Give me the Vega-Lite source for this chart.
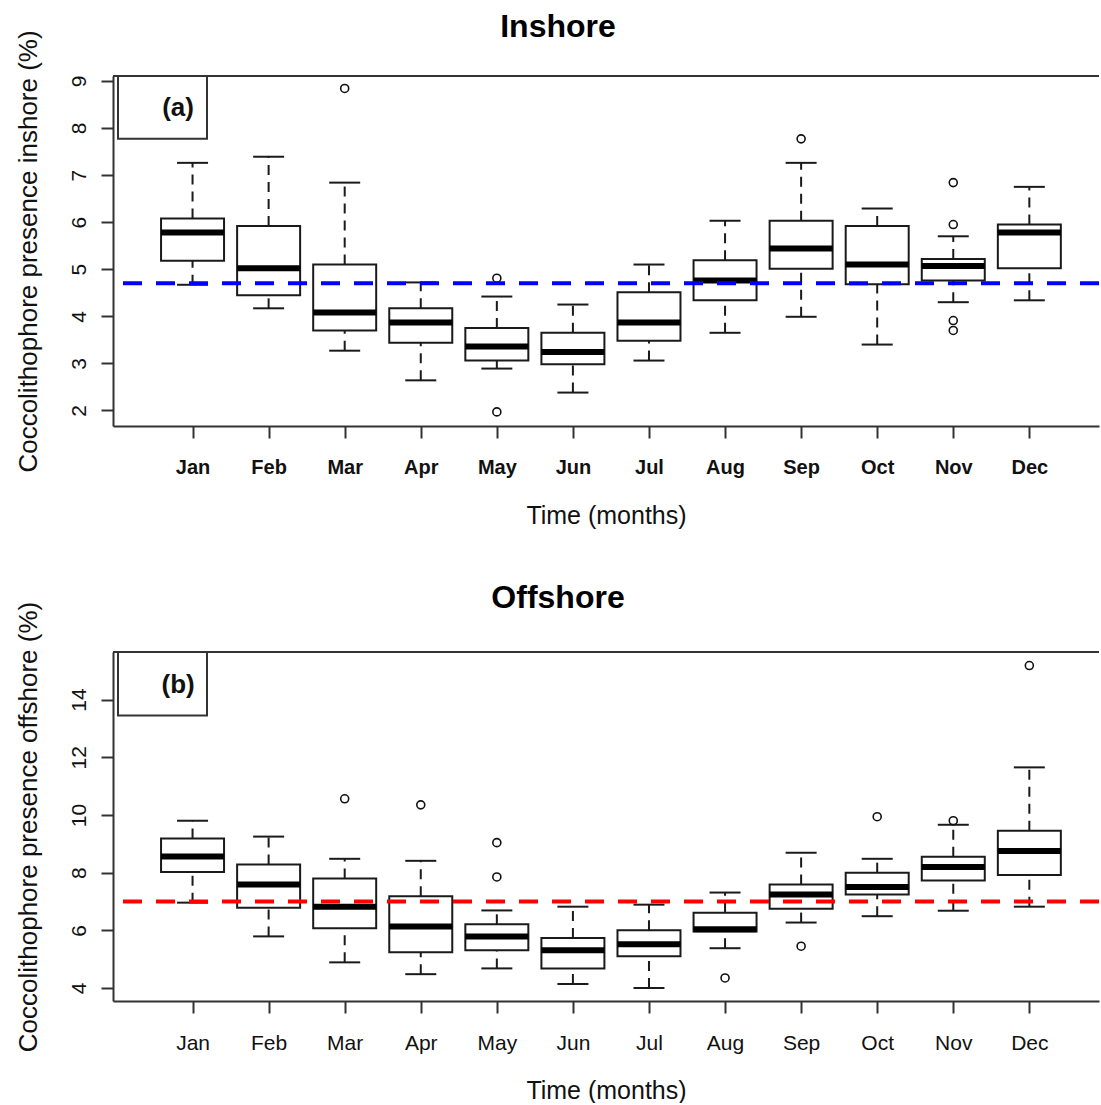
{
  "$schema": "https://vega.github.io/schema/vega-lite/v6.json",
  "padding": {"left": 15, "top": 10, "right": 0, "bottom": 0},
  "spacing": 226,
  "bounds": "flush",
  "datasets": {
    "inshore": [
      {"month": "Jan", "m": 1, "lower": 4.67, "q1": 5.18, "median": 5.78, "q3": 6.08, "upper": 7.26},
      {"month": "Feb", "m": 2, "lower": 4.17, "q1": 4.45, "median": 5.02, "q3": 5.92, "upper": 7.39},
      {"month": "Mar", "m": 3, "lower": 3.27, "q1": 3.70, "median": 4.08, "q3": 5.10, "upper": 6.84},
      {"month": "Apr", "m": 4, "lower": 2.64, "q1": 3.44, "median": 3.87, "q3": 4.17, "upper": 4.72},
      {"month": "May", "m": 5, "lower": 2.89, "q1": 3.06, "median": 3.36, "q3": 3.75, "upper": 4.42},
      {"month": "Jun", "m": 6, "lower": 2.38, "q1": 2.98, "median": 3.24, "q3": 3.65, "upper": 4.25},
      {"month": "Jul", "m": 7, "lower": 3.06, "q1": 3.48, "median": 3.87, "q3": 4.51, "upper": 5.10},
      {"month": "Aug", "m": 8, "lower": 3.65, "q1": 4.34, "median": 4.76, "q3": 5.19, "upper": 6.03},
      {"month": "Sep", "m": 9, "lower": 3.99, "q1": 5.01, "median": 5.44, "q3": 6.03, "upper": 7.26},
      {"month": "Oct", "m": 10, "lower": 3.40, "q1": 4.68, "median": 5.10, "q3": 5.92, "upper": 6.29},
      {"month": "Nov", "m": 11, "lower": 4.30, "q1": 4.76, "median": 5.07, "q3": 5.22, "upper": 5.70},
      {"month": "Dec", "m": 12, "lower": 4.34, "q1": 5.02, "median": 5.78, "q3": 5.95, "upper": 6.75}
    ],
    "inshore_out": [
      {"month": "Mar", "m": 3, "value": 8.84},
      {"month": "May", "m": 5, "value": 4.81},
      {"month": "May", "m": 5, "value": 1.97},
      {"month": "Sep", "m": 9, "value": 7.77},
      {"month": "Nov", "m": 11, "value": 6.84},
      {"month": "Nov", "m": 11, "value": 5.95},
      {"month": "Nov", "m": 11, "value": 3.91},
      {"month": "Nov", "m": 11, "value": 3.70}
    ],
    "offshore": [
      {"month": "Jan", "m": 1, "lower": 6.96, "q1": 8.02, "median": 8.56, "q3": 9.18, "upper": 9.80},
      {"month": "Feb", "m": 2, "lower": 5.79, "q1": 6.78, "median": 7.59, "q3": 8.28, "upper": 9.25},
      {"month": "Mar", "m": 3, "lower": 4.89, "q1": 6.07, "median": 6.82, "q3": 7.80, "upper": 8.48},
      {"month": "Apr", "m": 4, "lower": 4.48, "q1": 5.24, "median": 6.13, "q3": 7.18, "upper": 8.41},
      {"month": "May", "m": 5, "lower": 4.68, "q1": 5.31, "median": 5.79, "q3": 6.21, "upper": 6.69},
      {"month": "Jun", "m": 6, "lower": 4.14, "q1": 4.68, "median": 5.31, "q3": 5.73, "upper": 6.82},
      {"month": "Jul", "m": 7, "lower": 4.00, "q1": 5.10, "median": 5.52, "q3": 6.00, "upper": 6.89},
      {"month": "Aug", "m": 8, "lower": 5.38, "q1": 5.96, "median": 6.04, "q3": 6.61, "upper": 7.31},
      {"month": "Sep", "m": 9, "lower": 6.27, "q1": 6.75, "median": 7.24, "q3": 7.59, "upper": 8.69},
      {"month": "Oct", "m": 10, "lower": 6.49, "q1": 7.24, "median": 7.50, "q3": 8.00, "upper": 8.48},
      {"month": "Nov", "m": 11, "lower": 6.68, "q1": 7.73, "median": 8.20, "q3": 8.55, "upper": 9.66},
      {"month": "Dec", "m": 12, "lower": 6.82, "q1": 7.92, "median": 8.75, "q3": 9.45, "upper": 11.65}
    ],
    "offshore_out": [
      {"month": "Mar", "m": 3, "value": 10.56},
      {"month": "Apr", "m": 4, "value": 10.35},
      {"month": "May", "m": 5, "value": 9.04},
      {"month": "May", "m": 5, "value": 7.85},
      {"month": "Aug", "m": 8, "value": 4.35},
      {"month": "Sep", "m": 9, "value": 5.45},
      {"month": "Oct", "m": 10, "value": 9.94},
      {"month": "Nov", "m": 11, "value": 9.80},
      {"month": "Dec", "m": 12, "value": 15.18}
    ]
  },
  "vconcat": [
    {
      "title": {"text": "Inshore"},
      "width": 986,
      "height": 350,
      "layer": [
        {
          "data": {"name": "inshore"},
          "mark": {"type": "rule", "strokeDash": [10, 7], "strokeWidth": 2, "color": "#1a1a1a"},
          "encoding": {
            "x": {"field": "m", "type": "quantitative", "scale": {"domain": [0.02, 12.85], "nice": false, "zero": false}, "title": "Time (months)",
              "axis": {"values": [1,2,3,4,5,6,7,8,9,10,11,12], "labelExpr": "['Jan','Feb','Mar','Apr','May','Jun','Jul','Aug','Sep','Oct','Nov','Dec'][datum.value - 1]", "tickSize": 12, "labelPadding": 19, "labelFontSize": 20, "labelFontWeight": "bold", "labelFlush": false, "labelOverlap": false, "minExtent": 50, "maxExtent": 50, "titlePadding": 27, "titleFontSize": 25}},
            "y": {"field": "q3", "type": "quantitative", "scale": {"domain": [1.67, 9.105], "nice": false, "zero": false}, "title": "Coccolithophore presence inshore (%)",
              "axis": {"values": [2,3,4,5,6,7,8,9], "tickSize": 12, "labelPadding": 12, "labelAngle": 270, "labelAlign": "center", "labelBaseline": "bottom", "labelFontSize": 21, "minExtent": 40, "maxExtent": 40, "titlePadding": 32, "titleFontSize": 26}},
            "y2": {"field": "upper"}
          }
        },
        {
          "data": {"name": "inshore"},
          "mark": {"type": "rule", "strokeDash": [10, 7], "strokeWidth": 2, "color": "#1a1a1a"},
          "encoding": {
            "x": {"field": "m", "type": "quantitative", "scale": {"domain": [0.02, 12.85], "nice": false, "zero": false}, "title": "Time (months)"},
            "y": {"field": "lower", "type": "quantitative", "scale": {"domain": [1.67, 9.105], "nice": false, "zero": false}, "title": "Coccolithophore presence inshore (%)"},
            "y2": {"field": "q1"}
          }
        },
        {
          "data": {"name": "inshore"},
          "mark": {"type": "tick", "orient": "horizontal", "size": 31, "thickness": 2, "color": "#1a1a1a", "opacity": 1},
          "encoding": {
            "x": {"field": "m", "type": "quantitative", "scale": {"domain": [0.02, 12.85], "nice": false, "zero": false}, "title": "Time (months)"},
            "y": {"field": "upper", "type": "quantitative", "scale": {"domain": [1.67, 9.105], "nice": false, "zero": false}, "title": "Coccolithophore presence inshore (%)"}
          }
        },
        {
          "data": {"name": "inshore"},
          "mark": {"type": "tick", "orient": "horizontal", "size": 31, "thickness": 2, "color": "#1a1a1a", "opacity": 1},
          "encoding": {
            "x": {"field": "m", "type": "quantitative", "scale": {"domain": [0.02, 12.85], "nice": false, "zero": false}, "title": "Time (months)"},
            "y": {"field": "lower", "type": "quantitative", "scale": {"domain": [1.67, 9.105], "nice": false, "zero": false}, "title": "Coccolithophore presence inshore (%)"}
          }
        },
        {
          "data": {"name": "inshore"},
          "mark": {"type": "bar", "width": 63, "fill": "white", "stroke": "#1a1a1a", "strokeWidth": 2, "opacity": 1},
          "encoding": {
            "x": {"field": "m", "type": "quantitative", "scale": {"domain": [0.02, 12.85], "nice": false, "zero": false}, "title": "Time (months)"},
            "y": {"field": "q1", "type": "quantitative", "scale": {"domain": [1.67, 9.105], "nice": false, "zero": false}, "title": "Coccolithophore presence inshore (%)"},
            "y2": {"field": "q3"}
          }
        },
        {
          "data": {"name": "inshore"},
          "mark": {"type": "tick", "orient": "horizontal", "size": 63, "thickness": 6, "color": "#000000", "opacity": 1},
          "encoding": {
            "x": {"field": "m", "type": "quantitative", "scale": {"domain": [0.02, 12.85], "nice": false, "zero": false}, "title": "Time (months)"},
            "y": {"field": "median", "type": "quantitative", "scale": {"domain": [1.67, 9.105], "nice": false, "zero": false}, "title": "Coccolithophore presence inshore (%)"}
          }
        },
        {
          "data": {"name": "inshore_out"},
          "mark": {"type": "point", "shape": "circle", "filled": false, "size": 64, "strokeWidth": 1.6, "color": "#111111", "opacity": 1},
          "encoding": {
            "x": {"field": "m", "type": "quantitative", "scale": {"domain": [0.02, 12.85], "nice": false, "zero": false}, "title": "Time (months)"},
            "y": {"field": "value", "type": "quantitative", "scale": {"domain": [1.67, 9.105], "nice": false, "zero": false}, "title": "Coccolithophore presence inshore (%)"}
          }
        },
        {
          "data": {"values": [{"mean": 4.70}]},
          "mark": {"type": "rule", "color": "#0000ff", "strokeWidth": 4, "strokeDash": [19, 14]},
          "encoding": {
            "y": {"field": "mean", "type": "quantitative", "scale": {"domain": [1.67, 9.105], "nice": false, "zero": false}, "title": "Coccolithophore presence inshore (%)"}
          }
        },
        {
          "data": {"values": [{"label": "(a)"}]},
          "mark": {"type": "rule", "color": "#333333", "strokeWidth": 2},
          "encoding": {
            "y": {"datum": 9.105, "type": "quantitative", "scale": {"domain": [1.67, 9.105], "nice": false, "zero": false}, "title": "Coccolithophore presence inshore (%)"}
          }
        },
        {
          "data": {"values": [{"label": "(a)"}]},
          "mark": {"type": "rect", "fill": "white", "stroke": "#333333", "strokeWidth": 2},
          "encoding": {
            "x": {"datum": 0.02, "type": "quantitative", "scale": {"domain": [0.02, 12.85], "nice": false, "zero": false}, "title": "Time (months)"},
            "x2": {"datum": 1.19},
            "y": {"datum": 9.105, "type": "quantitative", "scale": {"domain": [1.67, 9.105], "nice": false, "zero": false}, "title": "Coccolithophore presence inshore (%)"},
            "y2": {"datum": 7.77}
          }
        },
        {
          "data": {"values": [{"label": "(a)"}]},
          "mark": {"type": "text", "fontSize": 26, "fontWeight": "bold", "align": "center", "baseline": "middle", "color": "#111111"},
          "encoding": {
            "x": {"datum": 0.81, "type": "quantitative", "scale": {"domain": [0.02, 12.85], "nice": false, "zero": false}, "title": "Time (months)"},
            "y": {"datum": 8.42, "type": "quantitative", "scale": {"domain": [1.67, 9.105], "nice": false, "zero": false}, "title": "Coccolithophore presence inshore (%)"},
            "text": {"field": "label"}
          }
        }
      ]
    },
    {
      "title": {"text": "Offshore"},
      "width": 986,
      "height": 349,
      "layer": [
        {
          "data": {"name": "offshore"},
          "mark": {"type": "rule", "strokeDash": [10, 7], "strokeWidth": 2, "color": "#1a1a1a"},
          "encoding": {
            "x": {"field": "m", "type": "quantitative", "scale": {"domain": [0.02, 12.85], "nice": false, "zero": false}, "title": "Time (months)",
              "axis": {"values": [1,2,3,4,5,6,7,8,9,10,11,12], "labelExpr": "['Jan','Feb','Mar','Apr','May','Jun','Jul','Aug','Sep','Oct','Nov','Dec'][datum.value - 1]", "tickSize": 12, "labelPadding": 19, "labelFontSize": 21, "labelFlush": false, "labelOverlap": false, "minExtent": 50, "maxExtent": 50, "titlePadding": 27, "titleFontSize": 25}},
            "y": {"field": "q3", "type": "quantitative", "scale": {"domain": [3.55, 15.65], "nice": false, "zero": false}, "title": "Coccolithophore presence offshore (%)",
              "axis": {"values": [4,6,8,10,12,14], "tickSize": 12, "labelPadding": 12, "labelAngle": 270, "labelAlign": "center", "labelBaseline": "bottom", "labelFontSize": 21, "minExtent": 40, "maxExtent": 40, "titlePadding": 32, "titleFontSize": 26}},
            "y2": {"field": "upper"}
          }
        },
        {
          "data": {"name": "offshore"},
          "mark": {"type": "rule", "strokeDash": [10, 7], "strokeWidth": 2, "color": "#1a1a1a"},
          "encoding": {
            "x": {"field": "m", "type": "quantitative", "scale": {"domain": [0.02, 12.85], "nice": false, "zero": false}, "title": "Time (months)"},
            "y": {"field": "lower", "type": "quantitative", "scale": {"domain": [3.55, 15.65], "nice": false, "zero": false}, "title": "Coccolithophore presence offshore (%)"},
            "y2": {"field": "q1"}
          }
        },
        {
          "data": {"name": "offshore"},
          "mark": {"type": "tick", "orient": "horizontal", "size": 31, "thickness": 2, "color": "#1a1a1a", "opacity": 1},
          "encoding": {
            "x": {"field": "m", "type": "quantitative", "scale": {"domain": [0.02, 12.85], "nice": false, "zero": false}, "title": "Time (months)"},
            "y": {"field": "upper", "type": "quantitative", "scale": {"domain": [3.55, 15.65], "nice": false, "zero": false}, "title": "Coccolithophore presence offshore (%)"}
          }
        },
        {
          "data": {"name": "offshore"},
          "mark": {"type": "tick", "orient": "horizontal", "size": 31, "thickness": 2, "color": "#1a1a1a", "opacity": 1},
          "encoding": {
            "x": {"field": "m", "type": "quantitative", "scale": {"domain": [0.02, 12.85], "nice": false, "zero": false}, "title": "Time (months)"},
            "y": {"field": "lower", "type": "quantitative", "scale": {"domain": [3.55, 15.65], "nice": false, "zero": false}, "title": "Coccolithophore presence offshore (%)"}
          }
        },
        {
          "data": {"name": "offshore"},
          "mark": {"type": "bar", "width": 63, "fill": "white", "stroke": "#1a1a1a", "strokeWidth": 2, "opacity": 1},
          "encoding": {
            "x": {"field": "m", "type": "quantitative", "scale": {"domain": [0.02, 12.85], "nice": false, "zero": false}, "title": "Time (months)"},
            "y": {"field": "q1", "type": "quantitative", "scale": {"domain": [3.55, 15.65], "nice": false, "zero": false}, "title": "Coccolithophore presence offshore (%)"},
            "y2": {"field": "q3"}
          }
        },
        {
          "data": {"name": "offshore"},
          "mark": {"type": "tick", "orient": "horizontal", "size": 63, "thickness": 6, "color": "#000000", "opacity": 1},
          "encoding": {
            "x": {"field": "m", "type": "quantitative", "scale": {"domain": [0.02, 12.85], "nice": false, "zero": false}, "title": "Time (months)"},
            "y": {"field": "median", "type": "quantitative", "scale": {"domain": [3.55, 15.65], "nice": false, "zero": false}, "title": "Coccolithophore presence offshore (%)"}
          }
        },
        {
          "data": {"name": "offshore_out"},
          "mark": {"type": "point", "shape": "circle", "filled": false, "size": 64, "strokeWidth": 1.6, "color": "#111111", "opacity": 1},
          "encoding": {
            "x": {"field": "m", "type": "quantitative", "scale": {"domain": [0.02, 12.85], "nice": false, "zero": false}, "title": "Time (months)"},
            "y": {"field": "value", "type": "quantitative", "scale": {"domain": [3.55, 15.65], "nice": false, "zero": false}, "title": "Coccolithophore presence offshore (%)"}
          }
        },
        {
          "data": {"values": [{"mean": 7.00}]},
          "mark": {"type": "rule", "color": "#ff0000", "strokeWidth": 4, "strokeDash": [19, 14]},
          "encoding": {
            "y": {"field": "mean", "type": "quantitative", "scale": {"domain": [3.55, 15.65], "nice": false, "zero": false}, "title": "Coccolithophore presence offshore (%)"}
          }
        },
        {
          "data": {"values": [{"label": "(b)"}]},
          "mark": {"type": "rule", "color": "#333333", "strokeWidth": 2},
          "encoding": {
            "y": {"datum": 15.65, "type": "quantitative", "scale": {"domain": [3.55, 15.65], "nice": false, "zero": false}, "title": "Coccolithophore presence offshore (%)"}
          }
        },
        {
          "data": {"values": [{"label": "(b)"}]},
          "mark": {"type": "rect", "fill": "white", "stroke": "#333333", "strokeWidth": 2},
          "encoding": {
            "x": {"datum": 0.02, "type": "quantitative", "scale": {"domain": [0.02, 12.85], "nice": false, "zero": false}, "title": "Time (months)"},
            "x2": {"datum": 1.19},
            "y": {"datum": 15.65, "type": "quantitative", "scale": {"domain": [3.55, 15.65], "nice": false, "zero": false}, "title": "Coccolithophore presence offshore (%)"},
            "y2": {"datum": 13.45}
          }
        },
        {
          "data": {"values": [{"label": "(b)"}]},
          "mark": {"type": "text", "fontSize": 26, "fontWeight": "bold", "align": "center", "baseline": "middle", "color": "#111111"},
          "encoding": {
            "x": {"datum": 0.81, "type": "quantitative", "scale": {"domain": [0.02, 12.85], "nice": false, "zero": false}, "title": "Time (months)"},
            "y": {"datum": 14.52, "type": "quantitative", "scale": {"domain": [3.55, 15.65], "nice": false, "zero": false}, "title": "Coccolithophore presence offshore (%)"},
            "text": {"field": "label"}
          }
        }
      ]
    }
  ],
  "config": {
    "font": "Liberation Sans",
    "view": {"stroke": null},
    "axis": {"grid": false, "domainColor": "#333333", "domainWidth": 2, "tickColor": "#333333", "tickWidth": 2, "labelColor": "#111111", "titleColor": "#111111", "labelFont": "Liberation Sans", "titleFont": "Liberation Sans", "titleFontWeight": "normal"},
    "title": {"font": "Liberation Sans", "fontSize": 32, "fontWeight": "bold", "color": "#000000", "anchor": "middle", "frame": "bounds", "baseline": "alphabetic", "offset": -14}
  }
}
